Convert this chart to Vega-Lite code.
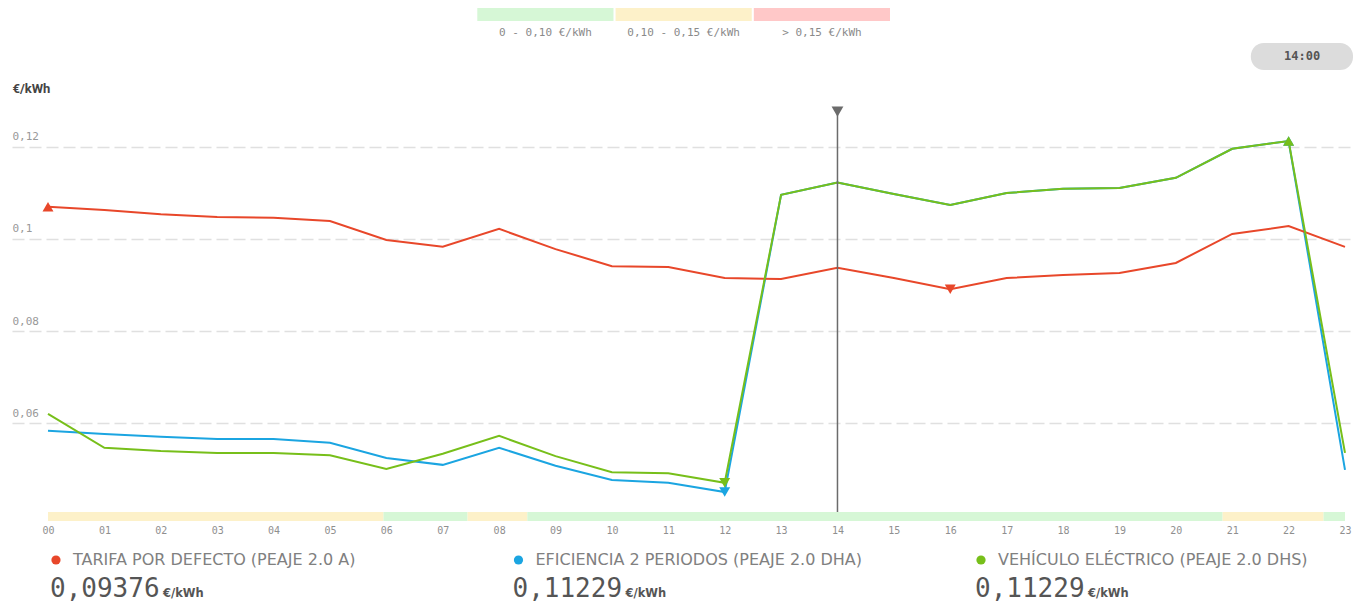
{
  "$schema": "https://vega.github.io/schema/vega-lite/v6.json",
  "width": 1341,
  "height": 421,
  "autosize": {"type": "none"},
  "padding": {"left": 12, "top": 100, "right": 0, "bottom": 81},
  "background": "white",
  "config": {
    "view": {"stroke": null},
    "font": "Roboto",
    "locale": {"number": {"decimal": ",", "thousands": ".", "grouping": [3], "currency": ["", " €"]}}
  },
  "layer": [
    {
      "layer": [
        {
          "data": {"values": [
            {"start": 0, "end": 5.95, "zone": "0,10 - 0,15 €/kWh"},
            {"start": 5.95, "end": 7.44, "zone": "0 - 0,10 €/kWh"},
            {"start": 7.44, "end": 8.5, "zone": "0,10 - 0,15 €/kWh"},
            {"start": 8.5, "end": 20.83, "zone": "0 - 0,10 €/kWh"},
            {"start": 20.83, "end": 22.62, "zone": "0,10 - 0,15 €/kWh"},
            {"start": 22.62, "end": 23, "zone": "0 - 0,10 €/kWh"}
          ]},
          "mark": {"type": "rect"},
          "encoding": {
            "x": {
              "field": "start", "type": "quantitative",
              "scale": {"domain": [-0.6384, 23.1419], "nice": false, "zero": false},
              "axis": {
                "values": [0,1,2,3,4,5,6,7,8,9,10,11,12,13,14,15,16,17,18,19,20,21,22,23],
                "format": "02d", "title": null, "domain": false, "ticks": false, "grid": false,
                "labelFont": "DejaVu Sans Mono", "labelFontSize": 10, "labelColor": "#8f8f8f",
                "labelPadding": 4, "labelFlush": false
              }
            },
            "x2": {"field": "end"},
            "y": {
              "datum": 0.038696, "type": "quantitative",
              "scale": {"domain": [0.038696, 0.130217], "nice": false, "zero": false},
              "axis": {
                "values": [0.06, 0.08, 0.1, 0.12],
                "labelExpr": "replace(format(datum.value, '.2~f'), '.', ',')",
                "title": "€/kWh", "titleAngle": 0, "titleX": 0, "titleY": -12,
                "titleAlign": "left", "titleBaseline": "middle",
                "titleFont": "Roboto", "titleFontSize": 13, "titleFontWeight": "bold", "titleColor": "#444444",
                "domain": false, "ticks": false, "tickSize": 0,
                "labelAlign": "left", "labelPadding": 0, "labelBaseline": "alphabetic", "labelOffset": -7,
                "labelFont": "DejaVu Sans Mono", "labelFontSize": 11, "labelColor": "#999999",
                "grid": true, "gridColor": "#e0e0e0", "gridDash": [12, 5], "gridWidth": 1.5
              }
            },
            "y2": {"datum": 0.04065},
            "color": {
              "field": "zone", "type": "nominal",
              "scale": {"domain": ["0 - 0,10 €/kWh", "0,10 - 0,15 €/kWh", "> 0,15 €/kWh"], "range": ["#d6f7d6", "#fdf1c9", "#ffc8c8"]},
              "legend": null
            }
          }
        },
        {
          "data": {"values": [
            {"series": "EFICIENCIA", "hour": 0, "price": 0.0583},
            {"series": "EFICIENCIA", "hour": 1, "price": 0.0576},
            {"series": "EFICIENCIA", "hour": 2, "price": 0.0570},
            {"series": "EFICIENCIA", "hour": 3, "price": 0.0565},
            {"series": "EFICIENCIA", "hour": 4, "price": 0.0565},
            {"series": "EFICIENCIA", "hour": 5, "price": 0.0557},
            {"series": "EFICIENCIA", "hour": 6, "price": 0.0524},
            {"series": "EFICIENCIA", "hour": 7, "price": 0.0509},
            {"series": "EFICIENCIA", "hour": 8, "price": 0.0546},
            {"series": "EFICIENCIA", "hour": 9, "price": 0.0507},
            {"series": "EFICIENCIA", "hour": 10, "price": 0.0476},
            {"series": "EFICIENCIA", "hour": 11, "price": 0.0470},
            {"series": "EFICIENCIA", "hour": 12, "price": 0.0450},
            {"series": "EFICIENCIA", "hour": 13, "price": 0.1096},
            {"series": "EFICIENCIA", "hour": 14, "price": 0.11229},
            {"series": "EFICIENCIA", "hour": 15, "price": 0.1098},
            {"series": "EFICIENCIA", "hour": 16, "price": 0.1074},
            {"series": "EFICIENCIA", "hour": 17, "price": 0.1100},
            {"series": "EFICIENCIA", "hour": 18, "price": 0.1109},
            {"series": "EFICIENCIA", "hour": 19, "price": 0.1111},
            {"series": "EFICIENCIA", "hour": 20, "price": 0.1133},
            {"series": "EFICIENCIA", "hour": 21, "price": 0.1196},
            {"series": "EFICIENCIA", "hour": 22, "price": 0.1213},
            {"series": "EFICIENCIA", "hour": 23, "price": 0.0498},
            {"series": "TARIFA", "hour": 0, "price": 0.1070},
            {"series": "TARIFA", "hour": 1, "price": 0.1063},
            {"series": "TARIFA", "hour": 2, "price": 0.1054},
            {"series": "TARIFA", "hour": 3, "price": 0.1048},
            {"series": "TARIFA", "hour": 4, "price": 0.1046},
            {"series": "TARIFA", "hour": 5, "price": 0.1039},
            {"series": "TARIFA", "hour": 6, "price": 0.0998},
            {"series": "TARIFA", "hour": 7, "price": 0.0983},
            {"series": "TARIFA", "hour": 8, "price": 0.1022},
            {"series": "TARIFA", "hour": 9, "price": 0.0978},
            {"series": "TARIFA", "hour": 10, "price": 0.0941},
            {"series": "TARIFA", "hour": 11, "price": 0.0939},
            {"series": "TARIFA", "hour": 12, "price": 0.0915},
            {"series": "TARIFA", "hour": 13, "price": 0.0913},
            {"series": "TARIFA", "hour": 14, "price": 0.09376},
            {"series": "TARIFA", "hour": 15, "price": 0.0915},
            {"series": "TARIFA", "hour": 16, "price": 0.0891},
            {"series": "TARIFA", "hour": 17, "price": 0.0915},
            {"series": "TARIFA", "hour": 18, "price": 0.0922},
            {"series": "TARIFA", "hour": 19, "price": 0.0926},
            {"series": "TARIFA", "hour": 20, "price": 0.0948},
            {"series": "TARIFA", "hour": 21, "price": 0.1011},
            {"series": "TARIFA", "hour": 22, "price": 0.1028},
            {"series": "TARIFA", "hour": 23, "price": 0.0983},
            {"series": "VEHICULO", "hour": 0, "price": 0.0620},
            {"series": "VEHICULO", "hour": 1, "price": 0.0546},
            {"series": "VEHICULO", "hour": 2, "price": 0.0539},
            {"series": "VEHICULO", "hour": 3, "price": 0.0535},
            {"series": "VEHICULO", "hour": 4, "price": 0.0535},
            {"series": "VEHICULO", "hour": 5, "price": 0.0530},
            {"series": "VEHICULO", "hour": 6, "price": 0.0500},
            {"series": "VEHICULO", "hour": 7, "price": 0.0533},
            {"series": "VEHICULO", "hour": 8, "price": 0.0572},
            {"series": "VEHICULO", "hour": 9, "price": 0.0528},
            {"series": "VEHICULO", "hour": 10, "price": 0.0493},
            {"series": "VEHICULO", "hour": 11, "price": 0.0491},
            {"series": "VEHICULO", "hour": 12, "price": 0.0470},
            {"series": "VEHICULO", "hour": 13, "price": 0.1096},
            {"series": "VEHICULO", "hour": 14, "price": 0.11229},
            {"series": "VEHICULO", "hour": 15, "price": 0.1098},
            {"series": "VEHICULO", "hour": 16, "price": 0.1074},
            {"series": "VEHICULO", "hour": 17, "price": 0.1100},
            {"series": "VEHICULO", "hour": 18, "price": 0.1109},
            {"series": "VEHICULO", "hour": 19, "price": 0.1111},
            {"series": "VEHICULO", "hour": 20, "price": 0.1133},
            {"series": "VEHICULO", "hour": 21, "price": 0.1196},
            {"series": "VEHICULO", "hour": 22, "price": 0.1213},
            {"series": "VEHICULO", "hour": 23, "price": 0.0535}
          ]},
          "mark": {"type": "line", "strokeWidth": 2},
          "encoding": {
            "x": {"field": "hour", "type": "quantitative"},
            "y": {"field": "price", "type": "quantitative"},
            "color": {
              "field": "series", "type": "nominal",
              "scale": {"domain": ["TARIFA", "EFICIENCIA", "VEHICULO"], "range": ["#e8472a", "#1ba5e1", "#77bf1a"]},
              "legend": null
            }
          }
        },
        {
          "data": {"values": [
            {"series": "EFICIENCIA", "hour": 22, "price": 0.1213, "kind": "max"},
            {"series": "EFICIENCIA", "hour": 12, "price": 0.0450, "kind": "min"},
            {"series": "TARIFA", "hour": 0, "price": 0.1070, "kind": "max"},
            {"series": "TARIFA", "hour": 16, "price": 0.0891, "kind": "min"},
            {"series": "VEHICULO", "hour": 22, "price": 0.1213, "kind": "max"},
            {"series": "VEHICULO", "hour": 12, "price": 0.0470, "kind": "min"}
          ]},
          "mark": {"type": "point", "filled": true, "opacity": 1, "size": 120},
          "encoding": {
            "x": {"field": "hour", "type": "quantitative"},
            "y": {"field": "price", "type": "quantitative"},
            "shape": {
              "field": "kind", "type": "nominal",
              "scale": {"domain": ["max", "min"], "range": ["triangle-up", "triangle-down"]},
              "legend": null
            },
            "color": {
              "field": "series", "type": "nominal",
              "scale": {"domain": ["TARIFA", "EFICIENCIA", "VEHICULO"], "range": ["#e8472a", "#1ba5e1", "#77bf1a"]},
              "legend": null
            }
          }
        },
        {
          "data": {"values": [{"hour": 14, "label": "14:00"}]},
          "mark": {"type": "rule", "color": "#6b6b6b", "strokeWidth": 1.5},
          "encoding": {
            "x": {"field": "hour", "type": "quantitative"},
            "y": {"datum": 0.1276, "type": "quantitative"},
            "y2": {"datum": 0.04065}
          }
        },
        {
          "data": {"values": [{"hour": 14, "label": "14:00"}]},
          "mark": {"type": "point", "shape": "triangle-down", "filled": true, "opacity": 1, "size": 140, "color": "#6b6b6b"},
          "encoding": {
            "x": {"field": "hour", "type": "quantitative"},
            "y": {"datum": 0.1277, "type": "quantitative"}
          }
        },
        {
          "data": {"values": [{"hour": 14, "label": "14:00"}]},
          "mark": {"type": "rect", "color": "#dcdcdc", "cornerRadius": 13},
          "encoding": {
            "x": {"datum": 21.33, "type": "quantitative"},
            "x2": {"datum": 23.142},
            "y": {"datum": 0.14261, "type": "quantitative"},
            "y2": {"datum": 0.13674}
          }
        },
        {
          "data": {"values": [{"hour": 14, "label": "14:00"}]},
          "mark": {"type": "text", "font": "DejaVu Sans Mono", "fontSize": 12, "fontWeight": "bold", "color": "#555555", "align": "center", "baseline": "middle"},
          "encoding": {
            "x": {"datum": 22.24, "type": "quantitative"},
            "y": {"datum": 0.13978, "type": "quantitative"},
            "text": {"field": "label"}
          }
        }
      ],
      "resolve": {"scale": {"color": "independent", "shape": "independent"}}
    },
    {
      "data": {"values": [
        {"zone": "0 - 0,10 €/kWh"},
        {"zone": "0,10 - 0,15 €/kWh"},
        {"zone": "> 0,15 €/kWh"}
      ]},
      "encoding": {
        "x": {
          "field": "zone", "type": "nominal",
          "scale": {"type": "band", "domain": ["0 - 0,10 €/kWh", "0,10 - 0,15 €/kWh", "> 0,15 €/kWh"], "range": [465.3, 878], "paddingInner": 0.015, "paddingOuter": 0},
          "axis": null
        }
      },
      "layer": [
        {
          "mark": {"type": "rect"},
          "encoding": {
            "y": {"datum": 0.15022, "type": "quantitative"},
            "y2": {"datum": 0.14739},
            "color": {
              "field": "zone", "type": "nominal",
              "scale": {"domain": ["0 - 0,10 €/kWh", "0,10 - 0,15 €/kWh", "> 0,15 €/kWh"], "range": ["#d6f7d6", "#fdf1c9", "#ffc8c8"]},
              "legend": null
            }
          }
        },
        {
          "mark": {"type": "text", "font": "DejaVu Sans Mono", "fontSize": 11, "color": "#8a8a8a", "align": "center", "baseline": "middle"},
          "encoding": {
            "y": {"datum": 0.14478, "type": "quantitative"},
            "text": {"field": "zone"}
          }
        }
      ]
    },
    {
      "data": {"values": [
        {"series": "TARIFA POR DEFECTO (PEAJE 2.0 A)", "key": "TARIFA", "price": 0.09376},
        {"series": "EFICIENCIA 2 PERIODOS (PEAJE 2.0 DHA)", "key": "EFICIENCIA", "price": 0.11229},
        {"series": "VEHÍCULO ELÉCTRICO (PEAJE 2.0 DHS)", "key": "VEHICULO", "price": 0.11229}
      ]},
      "encoding": {
        "x": {
          "field": "key", "type": "nominal",
          "scale": {"type": "point", "domain": ["TARIFA", "EFICIENCIA", "VEHICULO"], "padding": 0.4497, "align": 0.0913},
          "axis": null
        }
      },
      "layer": [
        {
          "mark": {"type": "point", "shape": "circle", "filled": true, "opacity": 1, "size": 85, "xOffset": 6},
          "encoding": {
            "y": {"datum": 0.030217, "type": "quantitative"},
            "color": {
              "field": "key", "type": "nominal",
              "scale": {"domain": ["TARIFA", "EFICIENCIA", "VEHICULO"], "range": ["#e8472a", "#1ba5e1", "#77bf1a"]},
              "legend": null
            }
          }
        },
        {
          "mark": {"type": "text", "font": "DejaVu Sans", "fontSize": 16, "color": "#808080", "align": "left", "baseline": "middle", "dx": 23},
          "encoding": {
            "y": {"datum": 0.030217, "type": "quantitative"},
            "text": {"field": "series"}
          }
        },
        {
          "mark": {"type": "text", "font": "DejaVu Sans Mono", "fontSize": 26, "color": "#555555", "align": "left", "baseline": "alphabetic", "dx": 0},
          "encoding": {
            "y": {"datum": 0.022174, "type": "quantitative"},
            "text": {"field": "price", "type": "quantitative", "format": ".5f"}
          }
        },
        {
          "mark": {"type": "text", "font": "DejaVu Sans", "fontSize": 11.5, "fontWeight": "bold", "color": "#555555", "align": "left", "baseline": "alphabetic", "dx": 113},
          "encoding": {
            "y": {"datum": 0.022174, "type": "quantitative"},
            "text": {"value": "€/kWh"}
          }
        }
      ]
    }
  ],
  "resolve": {"scale": {"x": "independent", "color": "independent"}}
}
